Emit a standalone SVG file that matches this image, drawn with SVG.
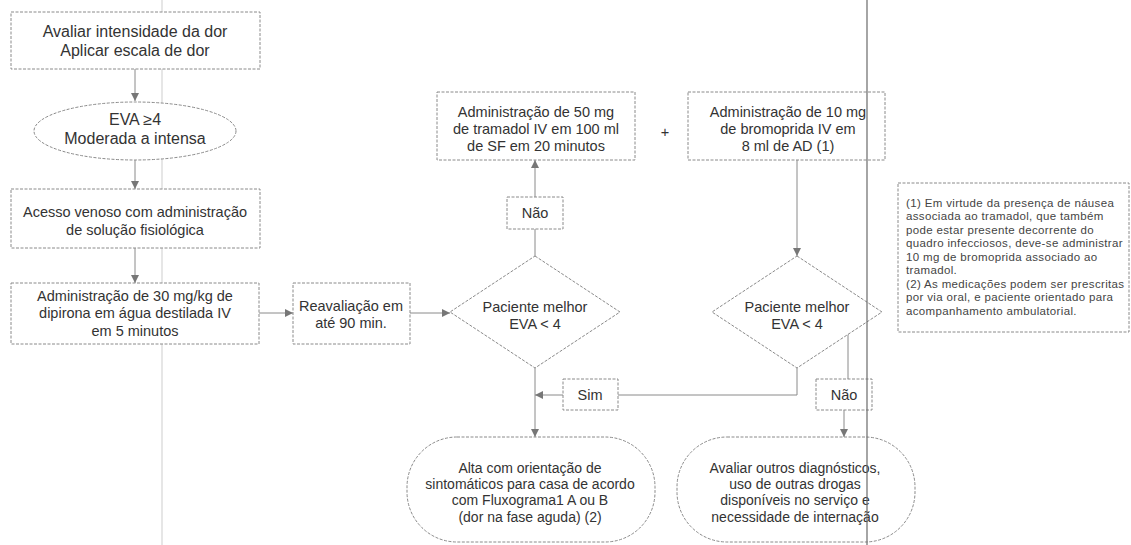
<svg xmlns="http://www.w3.org/2000/svg" width="1131" height="545" viewBox="0 0 1131 545">
<defs>
<style>
.box{fill:#fff;stroke:#8a8a8a;stroke-width:1;stroke-dasharray:3 1.5}
.t{font-family:"Liberation Sans",Arial,sans-serif;font-size:14.5px;fill:#333;text-anchor:middle}
.big{font-size:16px}
.tm{font-size:14px}
.n{font-family:"Liberation Sans",Arial,sans-serif;font-size:11.5px;letter-spacing:0.35px;fill:#444}
.c{fill:none;stroke:#8a8a8a;stroke-width:1}
</style>
<marker id="ah" markerWidth="10" markerHeight="10" refX="9" refY="5" orient="auto" markerUnits="userSpaceOnUse">
<path d="M1,1 L9,5 L1,9 Z" fill="#777"/>
</marker>
</defs>
<rect width="1131" height="545" fill="#fff"/>
<line x1="162" y1="0" x2="162" y2="545" stroke="#e6e6e6" stroke-width="2"/>

<g id="connectors">
<path class="c" d="M135,69 V101" marker-end="url(#ah)"/>
<path class="c" d="M135,160 V189" marker-end="url(#ah)"/>
<path class="c" d="M135,248 V283" marker-end="url(#ah)"/>
<path class="c" d="M259,313 H293" marker-end="url(#ah)"/>
<path class="c" d="M410,313 H450" marker-end="url(#ah)"/>
<path class="c" d="M535,256 V160" marker-end="url(#ah)"/>
<path class="c" d="M797,160 V256" marker-end="url(#ah)"/>
<path class="c" d="M797,368 V395 H535" marker-end="url(#ah)"/>
<path class="c" d="M535,368 V437" marker-end="url(#ah)"/>
<path class="c" d="M848,334 V379"/>
<path class="c" d="M844,410 V437" marker-end="url(#ah)"/>
</g>

<g id="n1"><rect class="box" x="11" y="12" width="249" height="57"/>
<text class="t big" x="135" y="37">Avaliar intensidade da dor</text>
<text class="t big" x="135" y="56">Aplicar escala de dor</text></g>

<g id="n2"><ellipse class="box" cx="135" cy="131" rx="101" ry="29"/>
<text class="t big" x="135" y="125">EVA ≥4</text>
<text class="t big" x="135" y="144">Moderada a intensa</text></g>

<g id="n3"><rect class="box" x="11" y="189" width="249" height="59"/>
<text class="t" x="135" y="217">Acesso venoso com administração</text>
<text class="t" x="135" y="235">de solução fisiológica</text></g>

<g id="n4"><rect class="box" x="11" y="283" width="248" height="61"/>
<text class="t" x="135" y="301">Administração de 30 mg/kg de</text>
<text class="t" x="135" y="318">dipirona em água destilada IV</text>
<text class="t" x="135" y="336">em 5 minutos</text></g>

<g id="n5"><rect class="box" x="293" y="283" width="117" height="61"/>
<text class="t" x="351" y="311">Reavaliação em</text>
<text class="t" x="351" y="328">até 90 min.</text></g>

<g id="n6"><polygon class="box" points="535,256 620,312 535,368 450,312"/>
<text class="t" x="535" y="312">Paciente melhor</text>
<text class="t" x="535" y="329">EVA &lt; 4</text></g>

<g id="n7"><rect class="box" x="507" y="197" width="56" height="32"/>
<text class="t" x="535" y="218">Não</text></g>

<g id="n8"><rect class="box" x="437" y="92" width="198" height="68"/>
<text class="t" x="536" y="117">Administração de 50 mg</text>
<text class="t" x="536" y="134">de tramadol IV em 100 ml</text>
<text class="t" x="536" y="151">de SF em 20 minutos</text></g>

<g id="plus"><text class="t" x="665" y="137">+</text></g>

<g id="n9"><rect class="box" x="688" y="92" width="197" height="68"/>
<text class="t" x="788" y="117">Administração de 10 mg</text>
<text class="t" x="788" y="134">de bromoprida IV em</text>
<text class="t" x="788" y="151">8 ml de AD (1)</text></g>

<g id="n10"><polygon class="box" points="797,256 882,312 797,368 712,312"/>
<text class="t" x="797" y="312">Paciente melhor</text>
<text class="t" x="797" y="329">EVA &lt; 4</text></g>

<g id="n11"><rect class="box" x="563" y="379" width="55" height="31"/>
<text class="t" x="590" y="400">Sim</text></g>

<g id="n12"><rect class="box" x="816" y="379" width="56" height="31"/>
<text class="t" x="844" y="400">Não</text></g>

<g id="n13"><rect class="box" x="407" y="437" width="248" height="105" rx="50" ry="50"/>
<text class="t tm" x="530" y="473">Alta com orientação de</text>
<text class="t tm" x="530" y="489">sintomáticos para casa de acordo</text>
<text class="t tm" x="530" y="505">com Fluxograma1 A ou B</text>
<text class="t tm" x="530" y="522">(dor na fase aguda) (2)</text></g>

<g id="n14"><rect class="box" x="677" y="437" width="238" height="105" rx="50" ry="50"/>
<text class="t tm" x="795" y="473">Avaliar outros diagnósticos,</text>
<text class="t tm" x="795" y="489">uso de outras drogas</text>
<text class="t tm" x="795" y="505">disponíveis no serviço e</text>
<text class="t tm" x="795" y="522">necessidade de internação</text></g>

<g id="notes"><rect class="box" x="898" y="183" width="231" height="149"/>
<text class="n" x="906" y="207">(1) Em virtude da presença de náusea</text>
<text class="n" x="906" y="220">associada ao tramadol, que também</text>
<text class="n" x="906" y="234">pode estar presente decorrente do</text>
<text class="n" x="906" y="247">quadro infecciosos, deve-se administrar</text>
<text class="n" x="906" y="261">10 mg de bromoprida associado ao</text>
<text class="n" x="906" y="274">tramadol.</text>
<text class="n" x="906" y="288">(2) As medicações podem ser prescritas</text>
<text class="n" x="906" y="301">por via oral, e paciente orientado para</text>
<text class="n" x="906" y="315">acompanhamento ambulatorial.</text></g>

<line x1="867" y1="0" x2="867" y2="545" stroke="#6a6a6a" stroke-width="1.2"/>
</svg>
